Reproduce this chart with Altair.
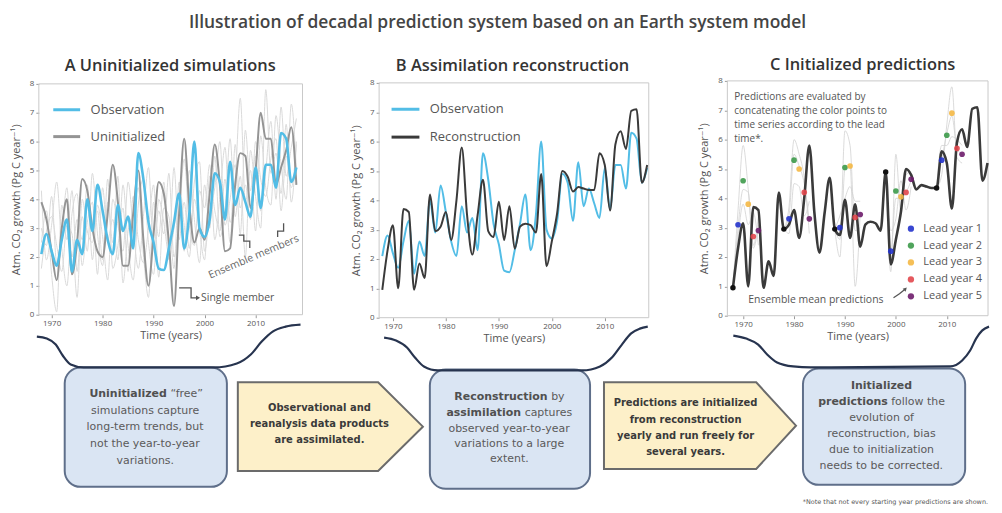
import altair as alt
import pandas as pd

# ---------------- data ----------------
years = list(range(1968, 2019))

observation = [2.1, 2.8, 2.2, 1.7, 2.6, 3.3, 1.5, 2.6, 2.1, 4.0,
               2.9, 4.5, 3.6, 2.6, 2.1, 3.8, 2.9, 3.4, 2.3, 5.6,
               4.7, 3.2, 2.5, 1.6, 1.55, 2.3, 3.2, 4.2, 2.3, 3.5,
               6.0, 3.0, 2.7, 3.3, 4.9, 4.6, 3.3, 5.3, 3.8, 4.4,
               3.9, 3.4, 5.1, 3.7, 5.2, 5.2, 4.4, 6.3, 6.1, 4.6,
               5.1]

reconstruction = [0.95, 2.3, 3.15, 1.0, 3.7, 3.6, 0.95, 1.85, 1.35, 4.2,
                  2.95, 3.1, 3.6, 2.65, 4.0, 5.8, 3.5, 2.15, 3.5, 4.7,
                  2.95, 2.75, 3.95, 2.65, 3.8, 2.35, 3.1, 3.2, 3.15, 2.9,
                  4.9, 1.75, 2.6, 3.55, 5.0, 4.8, 4.3, 4.45, 4.4, 4.35,
                  4.35, 5.6, 5.2, 3.65, 5.9, 6.35, 5.75, 7.05, 7.1, 4.6,
                  5.2]

uninitialized = [3.9, 3.3, 2.2, 1.2, 3.0, 4.0, 1.4, 2.5, 4.7, 4.3,
                 3.0, 2.2, 2.0, 3.5, 5.2, 3.9, 1.7, 1.7, 3.5, 5.0,
                 2.6, 1.0, 2.8, 4.6, 4.2, 2.5, 0.3, 3.5, 6.1, 3.8,
                 2.5, 3.0, 2.6, 4.2, 5.9, 4.5, 2.2, 2.3, 4.5, 5.6,
                 5.5, 3.7, 5.0, 7.0, 6.1, 6.1, 4.5, 5.1, 5.7, 6.5,
                 4.5]

member_1 = [3.0, 2.4, 4.1, 1.8, 2.9, 4.4, 2.0, 3.3, 2.6, 4.5,
            1.9, 3.8, 2.7, 1.2, 4.0, 3.1, 2.2, 4.6, 3.0, 1.6,
            3.4, 5.1, 2.3, 3.6, 2.8, 4.9, 2.0, 3.3, 5.4, 3.1,
            2.4, 4.3, 3.7, 5.2, 2.6, 4.1, 5.8, 3.2, 4.6, 7.5,
            3.9, 5.0, 2.9, 6.2, 4.4, 3.8, 6.9, 5.2, 4.0, 7.3,
            5.0]
member_2 = [2.5, 3.6, 1.4, 0.1, 3.8, 2.6, 4.3, 1.5, 3.4, 2.2,
            4.9, 2.8, 1.7, 3.9, 2.5, 4.8, 1.1, 2.9, 3.5, 4.4,
            2.1, 0.6, 3.9, 2.7, 4.6, 1.9, 3.0, 4.1, 2.2, 5.0,
            3.3, 1.8, 4.5, 3.0, 5.5, 2.7, 3.6, 6.1, 3.4, 4.8,
            2.0, 5.7, 4.1, 3.0, 7.8, 4.9, 5.6, 4.2, 6.6, 3.9,
            6.0]
member_3 = [4.3, 1.9, 3.1, 4.6, 2.3, 1.0, 3.5, 4.2, 1.7, 3.2,
            3.9, 1.4, 4.4, 2.6, 3.3, 1.9, 4.5, 2.4, 1.2, 3.8,
            4.7, 2.5, 1.4, 4.0, 3.2, 2.1, 5.1, 2.6, 3.9, 2.3,
            4.6, 5.3, 2.2, 3.5, 4.4, 6.0, 3.1, 4.0, 5.2, 2.8,
            6.4, 4.3, 5.5, 3.6, 5.0, 6.7, 4.0, 7.2, 4.8, 5.8,
            6.8]
member_4 = [1.6, 2.9, 3.4, 2.4, 1.5, 3.1, 2.8, 0.6, 4.0, 2.9,
            2.5, 3.6, 1.9, 4.7, 1.6, 2.4, 3.7, 1.5, 4.1, 2.6,
            1.8, 3.0, 4.5, 1.3, 3.7, 3.4, 1.6, 4.6, 3.1, 2.0,
            4.0, 2.9, 1.9, 4.8, 3.6, 2.9, 4.7, 2.5, 5.9, 3.7,
            4.5, 3.3, 6.0, 4.7, 4.1, 5.4, 6.1, 3.6, 5.5, 4.4,
            5.9]
members = [member_1, member_2, member_3, member_4]

start_years = [1968, 1978, 1988, 1998, 2008]
lead_labels = ["Lead year 1", "Lead year 2", "Lead year 3", "Lead year 4", "Lead year 5"]
lead_means = [[3.1, 4.6, 3.8, 2.7, 2.9],
              [3.3, 5.3, 5.0, 4.2, 3.3],
              [3.0, 5.05, 5.1, 3.35, 3.45],
              [2.2, 4.25, 4.05, 4.2, 4.65],
              [5.3, 6.15, 6.9, 5.7, 5.5]]
pred_members = [
    [[0.95, 3.6, 5.8, 4.3, 2.3, 3.1], [0.95, 2.7, 3.8, 3.1, 3.5, 2.4], [0.95, 3.0, 4.3, 4.2, 2.4, 3.4]],
    [[2.95, 3.7, 6.0, 5.5, 4.7, 2.8], [2.95, 2.8, 4.5, 4.4, 3.4, 3.9], [2.95, 3.4, 5.5, 5.1, 4.5, 3.2]],
    [[2.95, 2.6, 6.3, 5.8, 2.9, 3.0], [2.95, 3.4, 4.0, 4.4, 3.9, 3.9], [2.95, 2.0, 5.0, 5.1, 1.0, 3.5]],
    [[4.9, 1.5, 5.5, 3.5, 4.8, 4.9], [4.9, 2.9, 3.3, 4.6, 3.6, 4.4], [4.9, 2.2, 4.0, 4.0, 4.2, 4.6]],
    [[4.35, 4.8, 6.5, 7.8, 5.4, 5.2], [4.35, 5.8, 5.8, 6.1, 6.0, 5.8], [4.35, 5.3, 6.2, 6.8, 5.7, 5.5]],
]

y_ticks = [0, 1, 2, 3, 4, 5, 6, 7, 8]
x_ticks = [1970, 1980, 1990, 2000, 2010]

# ---------------- styling / layout ----------------
W, H = 986, 499
FONT = "Open Sans, DejaVu Sans, sans-serif"
BOXFONT = "DejaVu Sans"
CYAN = "#52bde6"
GRAY = "#949494"
LIGHT = "#dadada"
DARK = "#3a3a3a"
LEAD_COLORS = ["#2433cc", "#3d9a4a", "#f4b845", "#e2474c", "#6e1d6b"]


def sc(dom, rng):
    return alt.Scale(domain=dom, range=rng, nice=False, zero=False)


def yaxis(offset):
    return alt.Axis(orient="left", offset=offset, values=y_ticks, tickSize=3, tickColor="#999",
                    labelFontSize=8, labelColor="#555", labelPadding=2, labelFont=FONT,
                    domain=False, grid=False, title="Atm. CO\u2082 growth (Pg C year\u207b\u00b9)",
                    titleFontSize=11, titleColor="#555", titleFont=FONT, titleFontWeight="normal",
                    titlePadding=8)


def xaxis(offset):
    return alt.Axis(orient="bottom", offset=offset, values=x_ticks, format="d", tickSize=3,
                    tickColor="#999", labelFontSize=8, labelColor="#555", labelPadding=2,
                    labelFont=FONT, domain=False, grid=False, title="Time (years)",
                    titleFontSize=11, titleColor="#555", titleFont=FONT,
                    titleFontWeight="normal", titlePadding=2)


def panel_enc(xdom, xrng, ydom_rng, xoff, yoff):
    X = alt.X("year:Q", scale=sc(xdom, xrng), axis=xaxis(xoff))
    Y = alt.Y("value:Q", scale=sc([0, 8], ydom_rng), axis=yaxis(yoff))
    return X, Y


def frame(X, Y, xdom):
    df = pd.DataFrame({"year": [xdom[0]], "year2": [xdom[1]], "value": [0], "value2": [8]})
    return alt.Chart(df).mark_rect(fill="white", fillOpacity=0, stroke="#c9c9c9", strokeWidth=1).encode(
        x=X, x2="year2:Q", y=Y, y2="value2:Q")


def series_df(vals, name):
    return pd.DataFrame({"year": years, "value": vals, "series": name})


# ---------------- Panel A ----------------
A_XDOM = [1967.5, 2019.2]
XA, YA = panel_enc(A_XDOM, [31, 296], [307, 75], 307 - H, -31)
colA = alt.Color("series:N", scale=alt.Scale(domain=["Observation", "Uninitialized"], range=[CYAN, GRAY]),
                 legend=alt.Legend(orient="none", legendX=44, legendY=86, title=None, symbolType="stroke",
                                   symbolSize=729, symbolStrokeWidth=3, labelFontSize=13, labelFont=FONT,
                                   labelColor="#555", labelOffset=9, rowPadding=5, padding=0))
mem_df = pd.concat([pd.DataFrame({"year": years, "value": m, "member": f"m{i}"}) for i, m in enumerate(members)])
A = alt.layer(
    frame(XA, YA, A_XDOM),
    alt.Chart(mem_df).mark_line(color=LIGHT, strokeWidth=1, interpolate="monotone").encode(
        x=XA, y=YA, detail="member:N"),
    alt.Chart(series_df(uninitialized, "Uninitialized")).mark_line(strokeWidth=2, interpolate="monotone").encode(
        x=XA, y=YA, color=colA),
    alt.Chart(series_df(observation, "Observation")).mark_line(strokeWidth=2.6, interpolate="monotone").encode(
        x=XA, y=YA, color=colA),
)

# ---------------- Panel B ----------------
B_XDOM = [1967.4, 2018.3]
XB, YB = panel_enc(B_XDOM, [373, 644], [310, 74], 310 - H, -373)
colB = alt.Color("series:N", scale=alt.Scale(domain=["Observation", "Reconstruction"], range=[CYAN, DARK]),
                 legend=alt.Legend(orient="none", legendX=384, legendY=85, title=None, symbolType="stroke",
                                   symbolSize=784, symbolStrokeWidth=3, labelFontSize=13, labelFont=FONT,
                                   labelColor="#555", labelOffset=9, rowPadding=5, padding=0))
B = alt.layer(
    frame(XB, YB, B_XDOM),
    alt.Chart(series_df(observation, "Observation")).mark_line(strokeWidth=2, interpolate="monotone").encode(
        x=XB, y=YB, color=colB),
    alt.Chart(series_df(reconstruction, "Reconstruction")).mark_line(strokeWidth=2, interpolate="monotone").encode(
        x=XB, y=YB, color=colB),
)

# ---------------- Panel C ----------------
C_XDOM = [1966.9, 2018.1]
XC, YC = panel_enc(C_XDOM, [723, 985], [308, 72], 308 - H, -723)
spag_rows = []
for s, mems in zip(start_years, pred_members):
    for j, m in enumerate(mems):
        for k, v in enumerate(m):
            spag_rows.append({"year": s + k, "value": v, "run": f"{s}-{j}"})
spag_df = pd.DataFrame(spag_rows)
lead_rows = []
for s, means in zip(start_years, lead_means):
    for k, v in enumerate(means):
        lead_rows.append({"year": s + k + 1, "value": v, "lead": lead_labels[k]})
lead_df = pd.DataFrame(lead_rows)
start_df = pd.DataFrame({"year": start_years,
                         "value": [reconstruction[years.index(s)] for s in start_years]})
colC = alt.Color("lead:N", scale=alt.Scale(domain=lead_labels, range=LEAD_COLORS),
                 legend=alt.Legend(orient="none", legendX=902, legendY=215, title=None, symbolType="circle",
                                   symbolSize=40, labelFontSize=11, labelFont=FONT, labelColor="#555",
                                   labelOffset=7, rowPadding=5, padding=0, symbolOpacity=0.9))
C = alt.layer(
    frame(XC, YC, C_XDOM),
    alt.Chart(spag_df).mark_line(color="#d2d2d2", strokeWidth=0.8, interpolate="monotone").encode(
        x=XC, y=YC, detail="run:N"),
    alt.Chart(series_df(reconstruction, "Reconstruction")).mark_line(
        color=DARK, strokeWidth=2.6, interpolate="monotone").encode(x=XC, y=YC),
    alt.Chart(start_df).mark_circle(color="#111", size=30, opacity=1).encode(x=XC, y=YC),
    alt.Chart(lead_df).mark_circle(size=32, opacity=0.9).encode(x=XC, y=YC, color=colC),
)

# ---------------- Annotations (page pixel coordinates) ----------------
PXS = sc([8, 994], [0, 986])
PYS = sc([8, 507], [0, 499])


def ax(f):
    return alt.X(f"{f}:Q", scale=PXS, axis=None)


def ay(f):
    return alt.Y(f"{f}:Q", scale=PYS, axis=None)


NORM = {' ': .318, 'a': .613, 'b': .635, 'c': .550, 'd': .635, 'e': .615, 'f': .352, 'g': .635, 'h': .634,
        'i': .278, 'j': .278, 'k': .579, 'l': .278, 'm': .974, 'n': .634, 'o': .612, 'p': .635, 'q': .635,
        'r': .411, 's': .521, 't': .392, 'u': .634, 'v': .592, 'w': .818, 'x': .592, 'y': .592, 'z': .525,
        '-': .361, '.': .318, ',': .318, '\u201c': .41, '\u201d': .41}
BOLD = {' ': .348, 'a': .675, 'b': .716, 'c': .593, 'd': .716, 'e': .678, 'f': .435, 'g': .716, 'h': .712,
        'i': .343, 'j': .343, 'k': .665, 'l': .343, 'm': 1.042, 'n': .712, 'o': .687, 'p': .716, 'q': .716,
        'r': .493, 's': .595, 't': .478, 'u': .712, 'v': .652, 'w': .924, 'x': .645, 'y': .652, 'z': .582,
        'I': .372, 'R': .770, 'U': .812, 'P': .733, '.': .38, ',': .38, '-': .415}


def tw(text, bold, size):
    tab = BOLD if bold else NORM
    return sum(tab.get(ch, 0.62) for ch in text) * size


box_lines = [
    (146, 395, [("Uninitialized", True), (" \u201cfree\u201d", False)]),
    (146, 412, [("simulations capture", False)]),
    (146, 428, [("long-term trends, but", False)]),
    (146, 445, [("not the year-to-year", False)]),
    (146, 462, [("variations.", False)]),
    (512, 398, [("Reconstruction", True), (" by", False)]),
    (512, 414, [("assimilation", True), (" captures", False)]),
    (512, 430, [("observed year-to-year", False)]),
    (512, 445, [("variations to a large", False)]),
    (512, 460, [("extent.", False)]),
    (886, 387, [("Initialized", True)]),
    (886, 403, [("predictions", True), (" follow the", False)]),
    (886, 419, [("evolution of", False)]),
    (886, 435, [("reconstruction, bias", False)]),
    (886, 451, [("due to initialization", False)]),
    (886, 467, [("needs to be corrected.", False)]),
]
BOX_FS = 11
seg_rows = []
for cx, cy, segs in box_lines:
    total = sum(tw(t, b, BOX_FS) for t, b in segs)
    x0 = cx - total / 2
    for t, b in segs:
        lead_sp = len(t) - len(t.lstrip(" "))
        seg_rows.append({"px": x0 + lead_sp * NORM[" "] * BOX_FS, "py": cy, "text": t.strip(), "bold": b})
        x0 += tw(t, b, BOX_FS)
seg_df = pd.DataFrame(seg_rows)

arrow_text = pd.DataFrame({
    "text": ["Observational and", "reanalysis data products", "are assimilated.",
             "Predictions are initialized", "from reconstruction", "yearly and run freely for", "several years."],
    "px": [321, 321, 321, 689, 689, 689, 689],
    "py": [409, 425, 441, 404, 421, 437, 453],
})

boxes = pd.DataFrame({"x": [65, 432, 807], "x2": [228, 593, 970], "y": [368, 370, 369], "y2": [488, 490, 486]})
pent = pd.DataFrame({
    "id": ["p1", "p1", "p1", "p2", "p2", "p2"],
    "x": [239, 380, 425, 607, 760, 800],
    "y": [383, 383, 427.5, 383, 383, 426.5],
    "y2": [472, 472, 427.5, 470, 470, 426.5],
})

brace_pts = {
    "A": [(37, 337), (47, 339), (56, 345), (63, 356), (71, 365), (84, 368), (150, 368), (215, 368),
          (238, 364), (252, 355), (263, 342), (274, 332), (287, 327), (302, 325)],
    "B": [(386, 338), (398, 341), (409, 348), (417, 358), (426, 367), (440, 371), (515, 371), (585, 371),
          (603, 367), (615, 358), (625, 345), (634, 334), (643, 329), (651, 327)],
    "C": [(737, 336), (750, 339), (762, 345), (771, 355), (781, 363), (797, 367), (815, 368), (955, 367),
          (967, 361), (975, 351), (981, 339), (987, 331), (994, 327)],
}
brace_df = pd.DataFrame([{"id": k, "k": i, "x": p[0], "y": p[1]}
                         for k, pts in brace_pts.items() for i, p in enumerate(pts)])

poly_pts = {
    "br1": [(240, 235), (245, 235), (245, 241), (251, 241), (251, 248)],
    "br2": [(285, 223), (285, 231), (279, 231), (279, 237)],
    "single": [(180, 288), (192, 288), (192, 298), (197, 298)],
    "ens": [(898, 298), (904, 294), (909, 290)],
}
poly_df = pd.DataFrame([{"id": k, "k": i, "x": p[0], "y": p[1]}
                        for k, pts in poly_pts.items() for i, p in enumerate(pts)])

heads_r = pd.DataFrame({"x": [199], "y": [298]})
heads_ur = pd.DataFrame({"x": [910], "y": [289]})


def text_layer(df, **kw):
    return alt.Chart(df).mark_text(**kw).encode(x=ax("px"), y=ay("py"), text="text:N")


main_title = pd.DataFrame({"text": ["Illustration of decadal prediction system based on an Earth system model"],
                           "px": [500], "py": [22]})
panel_titles = pd.DataFrame({"text": ["A Uninitialized simulations", "B Assimilation reconstruction",
                                      "C Initialized predictions"],
                             "px": [171, 515, 867], "py": [65, 65, 64]})
c_note = pd.DataFrame({"text": ["Predictions are evaluated by", "concatenating the color points to",
                                "time series according to the lead", "time*."],
                       "px": [738, 738, 738, 738], "py": [96, 110, 124, 138]})
misc_left = pd.DataFrame({"text": ["Ensemble mean predictions", "Single member"],
                          "px": [752, 202], "py": [300, 298]})
ens_members = pd.DataFrame({"text": ["Ensemble members"], "px": [255], "py": [257]})
footnote = pd.DataFrame({"text": ["*Note that not every starting year predictions are shown."],
                         "px": [993], "py": [503]})

ANN = alt.layer(
    alt.Chart(boxes).mark_rect(cornerRadius=16, fill="#dae5f3", stroke="#5f6f8a", strokeWidth=2).encode(
        x=ax("x"), x2="x2:Q", y=ay("y"), y2="y2:Q"),
    alt.Chart(pent).mark_area(fill="#fdf0c9", stroke="#6b6b6b", strokeWidth=2, interpolate="linear").encode(
        x=ax("x"), y=ay("y"), y2="y2:Q", detail="id:N"),
    alt.Chart(brace_df).mark_line(color="#27344f", strokeWidth=2.2, interpolate="monotone").encode(
        x=ax("x"), y=ay("y"), detail="id:N", order="k:Q"),
    alt.Chart(poly_df).mark_line(color="#555", strokeWidth=1.3, interpolate="linear").encode(
        x=ax("x"), y=ay("y"), detail="id:N", order="k:Q"),
    alt.Chart(heads_r).mark_point(shape="triangle-right", filled=True, size=22, color="#555", opacity=1).encode(
        x=ax("x"), y=ay("y")),
    alt.Chart(heads_ur).mark_point(shape="triangle-up", angle=45, filled=True, size=18, color="#555",
                                   opacity=1).encode(x=ax("x"), y=ay("y")),
    text_layer(main_title, font=FONT, fontSize=17.5, fontWeight=600, color="#444", align="center",
               baseline="middle"),
    text_layer(panel_titles, font=FONT, fontSize=16.5, fontWeight=600, color="#333", align="center",
               baseline="middle"),
    text_layer(c_note, font=FONT, fontSize=10, color="#555", align="left", baseline="middle"),
    text_layer(misc_left, font=FONT, fontSize=10.5, color="#555", align="left", baseline="middle"),
    text_layer(ens_members, font=FONT, fontSize=10.5, color="#666", align="center", baseline="middle",
               angle=337),
    alt.Chart(seg_df[seg_df["bold"]]).mark_text(font=BOXFONT, fontSize=BOX_FS, fontWeight="bold",
                                                color="#505050", align="left", baseline="middle").encode(
        x=ax("px"), y=ay("py"), text="text:N"),
    alt.Chart(seg_df[~seg_df["bold"]]).mark_text(font=BOXFONT, fontSize=BOX_FS, color="#5a5a5a",
                                                 align="left", baseline="middle").encode(
        x=ax("px"), y=ay("py"), text="text:N"),
    text_layer(arrow_text, font=BOXFONT, fontSize=10, fontWeight="bold", color="#3a3a3a", align="center",
               baseline="middle"),
    text_layer(footnote, font=BOXFONT, fontSize=6.5, color="#555", align="right", baseline="middle"),
)

chart = alt.layer(A, B, C, ANN).resolve_scale(
    x="independent", y="independent", color="independent"
).properties(
    width=W, height=H, padding=0, background="white",
    autosize=alt.AutoSizeParams(type="pad")
).configure_view(stroke=None)

chart.save("out.html", embed_options={"renderer": "svg", "actions": False})
